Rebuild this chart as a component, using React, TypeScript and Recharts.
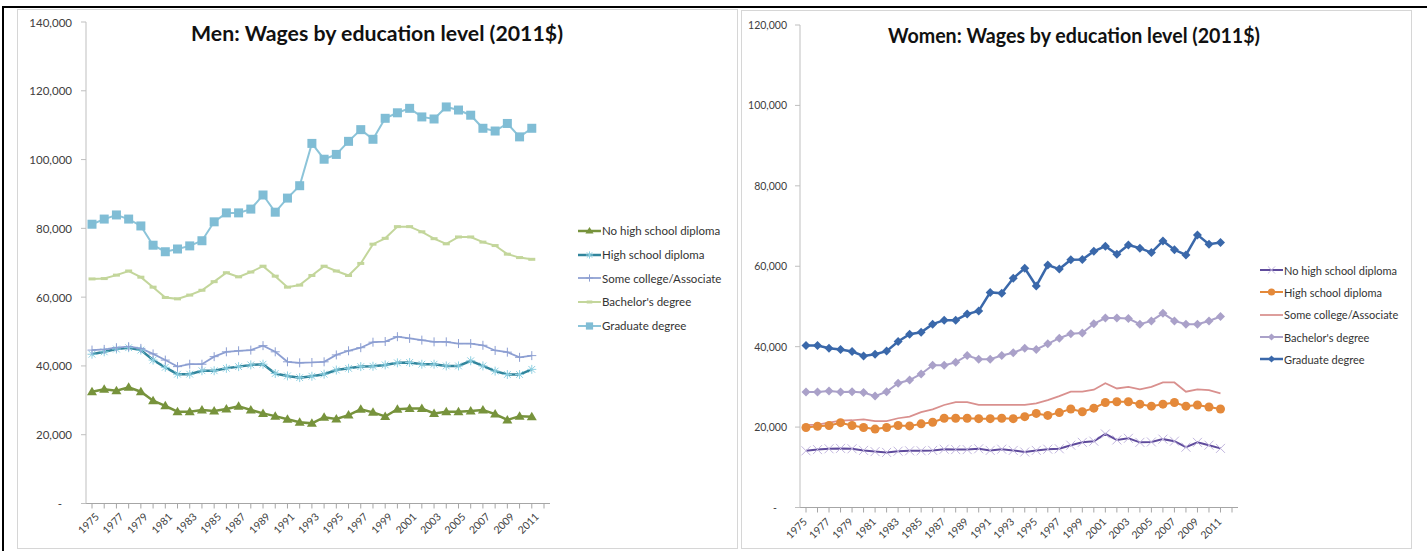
import React from 'react';
import { LineChart, Line, XAxis, YAxis } from 'recharts';

// categories (2012 slot is empty in the source sheet)
const years = [
  '1975', '1976', '1977', '1978', '1979', '1980', '1981', '1982', '1983', '1984',
  '1985', '1986', '1987', '1988', '1989', '1990', '1991', '1992', '1993', '1994',
  '1995', '1996', '1997', '1998', '1999', '2000', '2001', '2002', '2003', '2004',
  '2005', '2006', '2007', '2008', '2009', '2010', '2011', '2012',
];

const menTicks = [0, 20000, 40000, 60000, 80000, 100000, 120000, 140000];
const womenTicks = [0, 20000, 40000, 60000, 80000, 100000, 120000];

// Men, 2011 dollars
const menNoHS = [32500, 33200, 32800, 33800, 32500, 29900, 28400, 26700, 26700, 27200, 26900, 27500, 28300, 27200, 26200, 25400, 24500, 23600, 23300, 25100, 24600, 25700, 27400, 26500, 25300, 27400, 27600, 27600, 26200, 26700, 26700, 26900, 27200, 26000, 24300, 25400, 25200];
const menHS = [43400, 44100, 44900, 45300, 44600, 41700, 39600, 37600, 37600, 38600, 38600, 39300, 39800, 40300, 40500, 37800, 37100, 36600, 37000, 37600, 38800, 39300, 39800, 39900, 40300, 40900, 41000, 40500, 40500, 40000, 40000, 41500, 40000, 38500, 37500, 37500, 39000];
const menSome = [44600, 44800, 45300, 45600, 45100, 43500, 41700, 39800, 40500, 40500, 42700, 44100, 44400, 44600, 45900, 44100, 41200, 40900, 41000, 41200, 43200, 44400, 45300, 46900, 47100, 48500, 48000, 47500, 47000, 47000, 46500, 46500, 46000, 44500, 44000, 42500, 43000];
const menBach = [65300, 65400, 66400, 67600, 65800, 62900, 59900, 59500, 60600, 62000, 64500, 67100, 65900, 67300, 69000, 66100, 62900, 63500, 66300, 69000, 67600, 66300, 69800, 75400, 77100, 80500, 80500, 79000, 77000, 75500, 77500, 77500, 76000, 75000, 72500, 71500, 71000];
const menGrad = [81200, 82700, 83900, 82700, 80700, 75100, 73200, 74000, 74900, 76400, 81900, 84500, 84500, 85600, 89700, 84700, 88800, 92400, 104700, 100100, 101500, 105300, 108700, 105900, 112000, 113600, 114900, 112400, 111800, 115300, 114400, 112900, 109100, 108300, 110500, 106600, 109100];

// Women, 2011 dollars
const womenNoHS = [14100, 14400, 14600, 14700, 14600, 14200, 13900, 13700, 14000, 14100, 14100, 14200, 14500, 14400, 14400, 14600, 14200, 14500, 14200, 13800, 14200, 14500, 14600, 15500, 16200, 16500, 18300, 16800, 17200, 16200, 16300, 17000, 16500, 15000, 16200, 15500, 14700];
const womenHS = [19900, 20200, 20400, 21100, 20400, 19900, 19500, 19900, 20400, 20300, 20800, 21200, 22200, 22200, 22200, 22100, 22100, 22200, 22100, 22600, 23400, 22900, 23600, 24500, 23800, 24700, 26100, 26300, 26300, 25700, 25200, 25700, 26100, 25200, 25500, 25000, 24500];
const womenSome = [20500, 20600, 21100, 21600, 21700, 21900, 21500, 21500, 22200, 22600, 23700, 24400, 25500, 26200, 26200, 25500, 25500, 25500, 25500, 25500, 25900, 26700, 27700, 28800, 28800, 29300, 30900, 29600, 30000, 29400, 30000, 31100, 31100, 28800, 29400, 29200, 28400];
const womenBach = [28700, 28700, 29000, 28700, 28800, 28600, 27700, 28800, 30900, 31700, 33200, 35400, 35400, 36100, 37800, 36900, 36900, 37800, 38500, 39600, 39300, 40700, 42100, 43200, 43400, 45700, 47100, 47100, 47000, 45600, 46400, 48300, 46400, 45600, 45600, 46400, 47500];
const womenGrad = [40300, 40300, 39600, 39300, 38800, 37700, 38100, 38900, 41300, 43100, 43600, 45600, 46600, 46600, 48100, 48900, 53500, 53300, 57000, 59500, 55100, 60300, 59300, 61600, 61700, 63700, 65000, 63000, 65300, 64500, 63400, 66300, 64100, 62800, 67800, 65500, 65900];

const seriesNames = [
  'No high school diploma',
  'High school diploma',
  'Some college/Associate',
  "Bachelor's degree",
  'Graduate degree',
];

const pick = (arr: number[], i: number) => (arr[i] === undefined ? null : arr[i]);

const menRows = years.map((year, i) => ({
  year,
  noHS: pick(menNoHS, i),
  hs: pick(menHS, i),
  some: pick(menSome, i),
  bach: pick(menBach, i),
  grad: pick(menGrad, i),
}));

const womenRows = years.map((year, i) => ({
  year,
  noHS: pick(womenNoHS, i),
  hs: pick(womenHS, i),
  some: pick(womenSome, i),
  bach: pick(womenBach, i),
  grad: pick(womenGrad, i),
}));

type Shape = 'triangle' | 'asterisk' | 'plus' | 'dash' | 'square' | 'x' | 'circle' | 'diamond' | 'none';

interface SeriesStyle {
  key: string;
  name: string;
  line: string;
  marker: string;
  width: number;
  shape: Shape;
}

const menStyles: SeriesStyle[] = [
  { key: 'noHS', name: seriesNames[0], line: '#77933c', marker: '#77933c', width: 2.5, shape: 'triangle' },
  { key: 'hs', name: seriesNames[1], line: '#31859c', marker: '#8fd0e2', width: 2.5, shape: 'asterisk' },
  { key: 'some', name: seriesNames[2], line: '#8d9fd2', marker: '#8d9fd2', width: 1.75, shape: 'plus' },
  { key: 'bach', name: seriesNames[3], line: '#c3d69b', marker: '#c3d69b', width: 2, shape: 'dash' },
  { key: 'grad', name: seriesNames[4], line: '#8cc4d9', marker: '#80bdd5', width: 2, shape: 'square' },
];

const womenStyles: SeriesStyle[] = [
  { key: 'noHS', name: seriesNames[0], line: '#5f4b9c', marker: '#c2b6de', width: 2, shape: 'x' },
  { key: 'hs', name: seriesNames[1], line: '#e4893a', marker: '#e4893a', width: 2, shape: 'circle' },
  { key: 'some', name: seriesNames[2], line: '#d9908e', marker: '#d9908e', width: 1.75, shape: 'none' },
  { key: 'bach', name: seriesNames[3], line: '#aaa1c9', marker: '#aaa1c9', width: 2, shape: 'diamond' },
  { key: 'grad', name: seriesNames[4], line: '#3a68aa', marker: '#3a68aa', width: 2.5, shape: 'diamond' },
];

const FONT = 'Lato, "Open Sans", sans-serif';

function Marker({ shape, cx, cy, color, s = 1 }: { shape: Shape; cx: number; cy: number; color: string; s?: number }) {
  const r = 4.5 * s;
  switch (shape) {
    case 'triangle':
      return <polygon points={`${cx},${cy - r - 0.5} ${cx - r - 0.5},${cy + r - 1} ${cx + r + 0.5},${cy + r - 1}`} fill={color} />;
    case 'square':
      return <rect x={cx - r} y={cy - r} width={r * 2} height={r * 2} fill={color} />;
    case 'circle':
      return <circle cx={cx} cy={cy} r={r} fill={color} />;
    case 'diamond':
      return <polygon points={`${cx},${cy - r} ${cx + r},${cy} ${cx},${cy + r} ${cx - r},${cy}`} fill={color} />;
    case 'dash':
      return <rect x={cx - 3.5 * s} y={cy - 1.5} width={7 * s} height={3} fill={color} />;
    case 'plus':
      return (
        <g stroke={color} strokeWidth={1}>
          <line x1={cx - r} y1={cy} x2={cx + r} y2={cy} />
          <line x1={cx} y1={cy - r} x2={cx} y2={cy + r} />
        </g>
      );
    case 'x':
      return (
        <g stroke={color} strokeWidth={1}>
          <line x1={cx - r} y1={cy - r} x2={cx + r} y2={cy + r} />
          <line x1={cx - r} y1={cy + r} x2={cx + r} y2={cy - r} />
        </g>
      );
    case 'asterisk':
      return (
        <g stroke={color} strokeWidth={1}>
          <line x1={cx - r} y1={cy} x2={cx + r} y2={cy} />
          <line x1={cx} y1={cy - r} x2={cx} y2={cy + r} />
          <line x1={cx - r * 0.75} y1={cy - r * 0.75} x2={cx + r * 0.75} y2={cy + r * 0.75} />
          <line x1={cx - r * 0.75} y1={cy + r * 0.75} x2={cx + r * 0.75} y2={cy - r * 0.75} />
        </g>
      );
    default:
      return null;
  }
}

const dotFor = (st: SeriesStyle) => (p: any) => {
  const k = `${st.key}-${p.index}`;
  if (p.cx == null || p.cy == null || p.value == null) return <g key={k} />;
  return (
    <g key={k}>
      <Marker shape={st.shape} cx={p.cx} cy={p.cy} color={st.marker} />
    </g>
  );
};

function YearTick(props: any) {
  const { x, y, payload, index, dx = 0, dy = 0, fontSize = 10.5 } = props;
  if (index % 2 !== 0) return null;
  const ax = x + dx;
  const ay = y + dy;
  return (
    <text
      x={ax}
      y={ay}
      transform={`rotate(-45 ${ax} ${ay})`}
      textAnchor="end"
      dominantBaseline="central"
      fontFamily={FONT}
      fontSize={fontSize}
      fill="#404040"
    >
      {payload.value}
    </text>
  );
}

function ValueTick(props: any) {
  const { x, y, payload, fontSize = 11 } = props;
  const v = payload.value as number;
  return (
    <text
      x={v === 0 ? x - 10 : x}
      y={y}
      textAnchor="end"
      dominantBaseline="central"
      fontFamily={FONT}
      fontSize={fontSize}
      fill="#404040"
    >
      {v === 0 ? '-' : v.toLocaleString('en-US')}
    </text>
  );
}

function LegendBox({ styles, left, top, rowH, fontSize }: { styles: SeriesStyle[]; left: number; top: number; rowH: number; fontSize: number }) {
  return (
    <div style={{ position: 'absolute', left, top, fontFamily: FONT, fontSize, color: '#333' }}>
      {styles.map((st) => (
        <div key={st.key} style={{ display: 'flex', alignItems: 'center', height: rowH, whiteSpace: 'nowrap' }}>
          <svg width={23} height={12} style={{ display: 'block' }}>
            <line x1={0} y1={6} x2={23} y2={6} stroke={st.line} strokeWidth={st.width} />
            <Marker shape={st.shape} cx={11.5} cy={6} color={st.marker} s={0.8} />
          </svg>
          <span style={{ marginLeft: 1 }}>{st.name}</span>
        </div>
      ))}
    </div>
  );
}

// title drawn as svg text so its width can be pinned to the reference
function Title({ text, cx, cy, width }: { text: string; cx: number; cy: number; width: number }) {
  return (
    <svg style={{ position: 'absolute', left: 0, top: 0, pointerEvents: 'none' }} width={1427} height={551}>
      <text
        x={cx}
        y={cy}
        textAnchor="middle"
        dominantBaseline="central"
        fontFamily={FONT}
        fontWeight={700}
        fontSize={20}
        fill="#111"
        textLength={width}
        lengthAdjust="spacingAndGlyphs"
      >
        {text}
      </text>
    </svg>
  );
}

function Frame({ left, top, width, height }: { left: number; top: number; width: number; height: number }) {
  return (
    <div
      style={{
        position: 'absolute',
        left,
        top,
        width,
        height,
        border: '1px solid #d6d6d6',
        boxSizing: 'border-box',
      }}
    />
  );
}

export default function App() {
  return (
    <div style={{ position: 'absolute', left: 0, top: 0, width: 1427, height: 551, background: '#fff', overflow: 'hidden' }}>
      {/* outer black frame */}
      <div style={{ position: 'absolute', left: 2, top: 5.5, width: 1425, height: 2, background: '#000' }} />
      <div style={{ position: 'absolute', left: 2, top: 5.5, width: 2, height: 546, background: '#000' }} />

      {/* Men panel */}
      <Frame left={17} top={9} width={721} height={540} />
      <div style={{ position: 'absolute', left: 17, top: 9 }}>
        <LineChart width={720} height={539} data={menRows} margin={{ top: 13, right: 187, left: 9, bottom: 4 }}>
          <XAxis
            dataKey="year"
            interval={0}
            height={40.5}
            padding={{ left: 6, right: 6 }}
            tickSize={5}
            tickLine={{ stroke: '#a6a6a6' }}
            axisLine={{ stroke: '#a6a6a6' }}
            tick={<YearTick dx={5} dy={4} fontSize={10.5} />}
          />
          <YAxis
            domain={[0, 140000]}
            ticks={menTicks}
            width={60}
            tickSize={5}
            tickMargin={9}
            tickLine={{ stroke: '#bfbfbf' }}
            axisLine={{ stroke: '#bfbfbf' }}
            tick={<ValueTick fontSize={11.5} />}
          />
          {menStyles.map((st) => (
            <Line
              key={st.key}
              dataKey={st.key}
              name={st.name}
              type="linear"
              stroke={st.line}
              strokeWidth={st.width}
              dot={dotFor(st)}
              activeDot={false}
              isAnimationActive={false}
            />
          ))}
        </LineChart>
      </div>
      <Title text="Men: Wages by education level (2011$)" cx={377} cy={33} width={372} />
      <LegendBox styles={menStyles} left={578} top={219} rowH={23.7} fontSize={11.5} />

      {/* Women panel */}
      <Frame left={741} top={10} width={671} height={539} />
      <div style={{ position: 'absolute', left: 741, top: 10 }}>
        <LineChart width={670} height={538} data={womenRows} margin={{ top: 15, right: 173, left: 4, bottom: 4 }}>
          <XAxis
            dataKey="year"
            interval={0}
            height={36.5}
            padding={{ left: 6, right: 6 }}
            tickSize={5}
            tickLine={{ stroke: '#a6a6a6' }}
            axisLine={{ stroke: '#a6a6a6' }}
            tick={<YearTick dx={-1} dy={5} fontSize={10.5} />}
          />
          <YAxis
            domain={[0, 120000]}
            ticks={womenTicks}
            width={55}
            tickSize={5}
            tickMargin={8}
            tickLine={{ stroke: '#bfbfbf' }}
            axisLine={{ stroke: '#bfbfbf' }}
            tick={<ValueTick fontSize={10.5} />}
          />
          {womenStyles.map((st) => (
            <Line
              key={st.key}
              dataKey={st.key}
              name={st.name}
              type="linear"
              stroke={st.line}
              strokeWidth={st.width}
              dot={dotFor(st)}
              activeDot={false}
              isAnimationActive={false}
            />
          ))}
        </LineChart>
      </div>
      <Title text="Women: Wages by education level (2011$)" cx={1074} cy={35} width={372} />
      <LegendBox styles={womenStyles} left={1260} top={259} rowH={22.3} fontSize={11} />
    </div>
  );
}
